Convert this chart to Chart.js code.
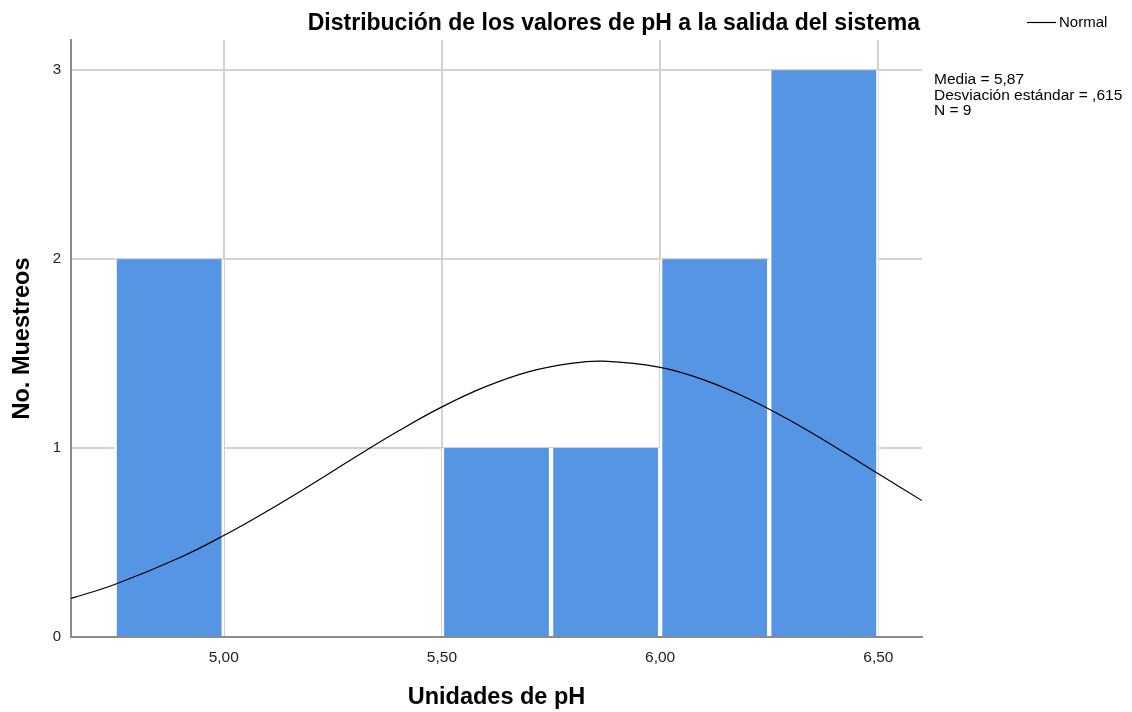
<!DOCTYPE html>
<html>
<head>
<meta charset="utf-8">
<script src="https://cdn.jsdelivr.net/npm/chart.js@4.4.1/dist/chart.umd.min.js"></script>
<style>
  body { margin: 0; background: #fff; }
  canvas { display: block; }
</style>
</head>
<body>
<canvas id="hist" width="1132" height="712"></canvas>
<script>
// histogram bins (centre of each 0,25 wide bin) and counts
const binCenters = [4.875, 5.625, 5.875, 6.125, 6.375];
const counts = [2, 1, 1, 2, 3];

// fitted normal curve, read along the x axis
const curveX = [4.65, 4.75, 4.9, 5.0, 5.1, 5.2, 5.3, 5.4, 5.5, 5.6, 5.7, 5.8, 5.87, 6.0, 6.1, 6.2, 6.3, 6.4, 6.5, 6.6];
const curveY = [0.204, 0.278, 0.421, 0.537, 0.667, 0.806, 0.950, 1.090, 1.218, 1.325, 1.405, 1.450, 1.460, 1.427, 1.361, 1.264, 1.143, 1.007, 0.864, 0.722];

const xTicks = [5.0, 5.5, 6.0, 6.5];
const yTicks = [0, 1, 2, 3];

const titleText = "Distribución de los valores de pH a la salida del sistema";
const statsText = ["Media = 5,87", "Desviación estándar = ,615", "N = 9"];

const FONT = "'Liberation Sans', Arial, sans-serif";

// title, legend and statistics box drawn around the plot area
const extras = {
  id: "extras",
  afterDraw(chart) {
    const ctx = chart.ctx;
    const area = chart.chartArea;
    ctx.save();
    ctx.fillStyle = "#000";
    ctx.textBaseline = "middle";

    ctx.font = "bold 23px " + FONT;
    ctx.textAlign = "right";
    ctx.fillText(titleText, area.right - 2, 24);

    // legend entry for the curve
    const curve = chart.data.datasets[1];
    ctx.strokeStyle = curve.borderColor;
    ctx.lineWidth = 1.2;
    ctx.beginPath();
    ctx.moveTo(1027, 22.5);
    ctx.lineTo(1056, 22.5);
    ctx.stroke();
    ctx.font = "15px " + FONT;
    ctx.textAlign = "left";
    ctx.fillText(curve.label, 1059, 23);

    ctx.font = "15.5px " + FONT;
    statsText.forEach((t, i) => {
      ctx.fillText(t, area.right + 12, 80 + i * 15.5);
    });
    ctx.restore();
  }
};

new Chart(document.getElementById("hist"), {
  data: {
    datasets: [{
      type: "bar",
      label: "Frecuencia",
      data: binCenters.map((x, i) => ({ x: x, y: counts[i] })),
      backgroundColor: "#5694e4",
      borderColor: "#ffffff",
      borderWidth: { left: 2.5, right: 2.5, top: 0, bottom: 0 },
      borderSkipped: false,
      barPercentage: 1,
      categoryPercentage: 1,
      order: 2
    }, {
      type: "line",
      label: "Normal",
      data: curveX.map((x, i) => ({ x: x, y: curveY[i] })),
      borderColor: "#000000",
      borderWidth: 1.2,
      pointRadius: 0,
      fill: false,
      tension: 0.4,
      order: 1
    }]
  },
  options: {
    responsive: false,
    animation: false,
    devicePixelRatio: 1,
    layout: { padding: { top: 40, right: 210, left: 0, bottom: 0 } },
    plugins: {
      legend: { display: false },
      title: { display: false },
      tooltip: { enabled: false }
    },
    scales: {
      x: {
        type: "linear",
        offset: false,
        min: 4.65,
        max: 6.60,
        afterBuildTicks: (s) => { s.ticks = xTicks.map(v => ({ value: v })); },
        afterFit: (s) => { s.height = 75; },
        grid: { color: "#d2d2d2", lineWidth: 2, drawTicks: false, offset: false },
        border: { color: "#8c8c8c", width: 2 },
        ticks: {
          padding: 11,
          color: "#222",
          font: { family: FONT, size: 15.5 },
          callback: (v) => v.toFixed(2).replace(".", ",")
        },
        title: {
          display: true,
          text: "Unidades de pH",
          color: "#000",
          font: { family: FONT, size: 23.5, weight: "bold", lineHeight: 1.2 },
          padding: { top: 0, bottom: 0 }
        }
      },
      y: {
        min: 0,
        max: 3.16,
        afterBuildTicks: (s) => { s.ticks = yTicks.map(v => ({ value: v })); },
        afterFit: (s) => { s.width = 71; },
        grid: { color: "#d2d2d2", lineWidth: 2, drawTicks: false },
        border: { color: "#8c8c8c", width: 2 },
        ticks: {
          padding: 10,
          color: "#222",
          font: { family: FONT, size: 15 },
          callback: (v) => String(v)
        },
        title: {
          display: true,
          text: "No. Muestreos",
          color: "#000",
          font: { family: FONT, size: 23.5, weight: "bold", lineHeight: 1.2 },
          padding: { top: 8, bottom: 0 }
        }
      }
    }
  },
  plugins: [extras]
});
</script>
</body>
</html>
